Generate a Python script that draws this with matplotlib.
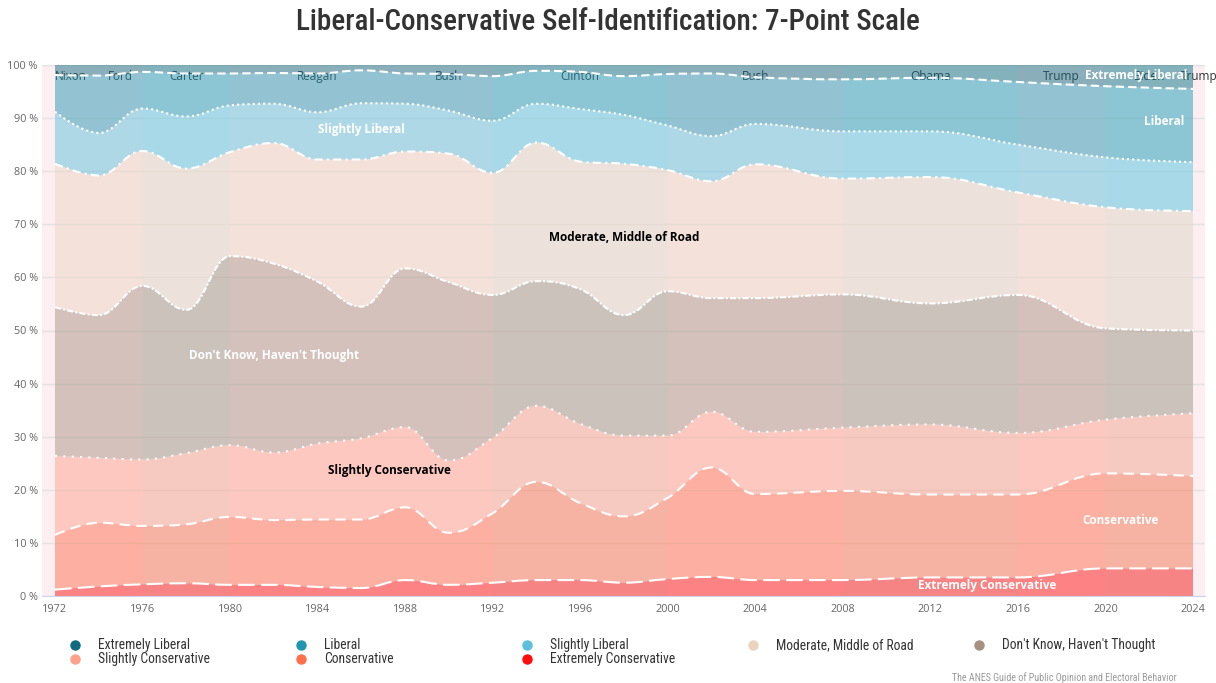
import numpy as np
import matplotlib
matplotlib.use("Agg")
import matplotlib.pyplot as plt
from matplotlib.path import Path
from matplotlib.patches import PathPatch
from matplotlib.lines import Line2D
from matplotlib import font_manager

# ANES survey years and shares (%) per category
years = [1972, 1974, 1976, 1978, 1980, 1982, 1984, 1986, 1988, 1990, 1992,
         1994, 1996, 1998, 2000, 2002, 2004, 2008, 2012, 2016, 2020, 2024]

extremely_conservative = [1.2, 1.8, 2.2, 2.4, 2.1, 2.1, 1.7, 1.5, 3.0, 2.1, 2.5,
                          3.0, 3.0, 2.5, 3.2, 3.6, 3.0, 3.0, 3.5, 3.5, 5.2, 5.2]
conservative = [10.3, 12.0, 11.0, 11.1, 12.8, 12.2, 12.7, 12.9, 13.7, 9.8, 13.1,
                18.5, 14.5, 12.5, 15.3, 20.6, 16.2, 16.8, 15.6, 15.6, 17.9, 17.4]
slightly_conservative = [14.9, 12.2, 12.5, 13.4, 13.5, 12.7, 14.3, 15.3, 15.1, 13.6, 14.2,
                         14.3, 14.9, 15.2, 11.7, 10.5, 11.7, 11.9, 13.2, 11.6, 10.1, 11.8]
dont_know = [28.0, 26.9, 32.7, 27.0, 35.6, 35.6, 30.5, 24.8, 29.9, 33.6, 26.9,
             23.5, 25.4, 22.7, 27.2, 21.4, 25.2, 25.1, 22.8, 26.0, 17.2, 15.6]
moderate = [27.0, 26.3, 25.4, 26.6, 19.6, 22.7, 23.0, 27.7, 22.0, 24.2, 23.0,
            26.1, 24.0, 28.5, 22.8, 22.0, 25.2, 21.8, 23.8, 19.3, 22.8, 22.5]
slightly_liberal = [9.8, 8.0, 8.0, 9.8, 8.8, 7.4, 8.9, 10.6, 9.0, 8.1, 9.8,
                    7.3, 9.9, 9.2, 8.4, 8.5, 7.6, 8.9, 8.6, 9.0, 9.4, 9.2]
liberal = [6.9, 10.8, 6.9, 8.1, 6.0, 5.8, 7.3, 6.2, 5.7, 6.9, 8.4,
           6.2, 7.0, 7.3, 9.7, 11.8, 8.8, 9.8, 10.1, 11.8, 13.4, 13.8]
extremely_liberal = [1.9, 2.0, 1.3, 1.6, 1.6, 1.5, 1.6, 1.0, 1.6, 1.7, 2.1,
                     1.1, 1.3, 2.1, 1.7, 1.6, 2.3, 2.7, 2.4, 3.2, 4.0, 4.5]

# legend order (top of stack first)
names = ["Extremely Liberal", "Liberal", "Slightly Liberal", "Moderate, Middle of Road",
         "Don't Know, Haven't Thought", "Slightly Conservative", "Conservative",
         "Extremely Conservative"]
values = [extremely_liberal, liberal, slightly_liberal, moderate, dont_know,
          slightly_conservative, conservative, extremely_conservative]
colors = ["#0e6b80", "#2196b0", "#5bc0db", "#ebd3c0", "#a89080",
          "#ffa08a", "#ff6e4a", "#ff0d0d"]
line_styles = [None, (0, (4, 2)), (0, (1, 1.5)), (0, (4, 2, 1, 2)), (0, (3, 1, 1, 1)),
               (0, (1, 3)), (0, (5, 3)), (0, (8, 3))]

presidents = ["Nixon", "Ford", "Carter", "Reagan", "Bush", "Clinton", "Bush",
              "Obama", "Trump", "Biden", "Trump"]
terms = [(1968, 1974), (1974, 1976), (1976, 1980), (1980, 1988), (1988, 1992),
         (1992, 2000), (2000, 2008), (2008, 2016), (2016, 2020), (2020, 2024), (2024, 2028)]
parties = ["R", "R", "D", "R", "R", "D", "R", "D", "R", "D", "R"]

avail = {f.name for f in font_manager.fontManager.ttflist}
cond = "Roboto Condensed" if "Roboto Condensed" in avail else "Roboto"
plt.rcParams["font.family"] = ["Open Sans", "DejaVu Sans"]


def spline_segments(x, y, smoothing=1.5):
    # highcharts-like spline control points
    n = len(x)
    denom = smoothing + 1
    left = [None] * n
    right = [None] * n
    for i in range(1, n - 1):
        lx, ly = x[i - 1], y[i - 1]
        nx, ny = x[i + 1], y[i + 1]
        px, py = x[i], y[i]
        lcx = (smoothing * px + lx) / denom
        lcy = (smoothing * py + ly) / denom
        rcx = (smoothing * px + nx) / denom
        rcy = (smoothing * py + ny) / denom
        corr = ((rcy - lcy) * (rcx - px)) / (rcx - lcx) + py - rcy
        lcy += corr
        rcy += corr
        if lcy > ly and lcy > py:
            lcy = max(ly, py)
            rcy = 2 * py - lcy
        elif lcy < ly and lcy < py:
            lcy = min(ly, py)
            rcy = 2 * py - lcy
        if rcy > ny and rcy > py:
            rcy = max(ny, py)
            lcy = 2 * py - rcy
        elif rcy < ny and rcy < py:
            rcy = min(ny, py)
            lcy = 2 * py - rcy
        left[i] = (lcx, lcy)
        right[i] = (rcx, rcy)
    right[0] = (x[0], y[0])
    left[n - 1] = (x[-1], y[-1])
    return left, right


def curve_path(x, y):
    left, right = spline_segments(x, y)
    verts = [(x[0], y[0])]
    codes = [Path.MOVETO]
    for i in range(len(x) - 1):
        verts += [right[i], left[i + 1], (x[i + 1], y[i + 1])]
        codes += [Path.CURVE4] * 3
    return verts, codes


def band_path(x, lo, hi):
    verts, codes = curve_path(x, hi)
    left, right = spline_segments(x, lo)
    verts.append((x[-1], lo[-1]))
    codes.append(Path.LINETO)
    for i in range(len(x) - 2, -1, -1):
        verts += [left[i + 1], right[i], (x[i], lo[i])]
        codes += [Path.CURVE4] * 3
    verts.append((x[0], hi[0]))
    codes.append(Path.CLOSEPOLY)
    return Path(verts, codes)


x = np.array(years, dtype=float)
stack = np.array(values[::-1], dtype=float)      # bottom -> top
tops = np.cumsum(stack, axis=0)
bottoms = np.vstack([np.zeros(len(x)), tops[:-1]])

fig = plt.figure(figsize=(12.16, 6.83), dpi=100)
ax = fig.add_axes([42 / 1216, 1 - 596 / 683, 1163 / 1216, 531 / 683])
ax.set_xlim(1971.406, 2024.548)
ax.set_ylim(0, 100)

# presidential bands
for (s, e), p, name in zip(terms, parties, presidents):
    ax.axvspan(s, e, color="#fdeef2" if p == "R" else "#eef1f4", lw=0, zorder=0)
    lo, hi = max(s, 1971.406), min(e, 2024.548)
    ax.text((lo + hi) / 2, 97.8, name, ha="center", va="center", fontsize=8.5,
            color="#333333", zorder=1)

ax.set_yticks(range(0, 101, 10))
ax.set_yticklabels([f"{v} %" for v in range(0, 101, 10)])
ax.set_xticks(range(1972, 2025, 4))
ax.grid(axis="y", color="#e3e3e3", lw=1)
ax.set_axisbelow(True)
for side in ["top", "left", "right"]:
    ax.spines[side].set_visible(False)
ax.spines["bottom"].set_color("#ccd6eb")
ax.tick_params(length=0, labelsize=7.8, labelcolor="#666666")
ax.tick_params(axis="y", pad=3)
ax.tick_params(axis="x", pad=6)

# stacked areas, bottom to top
for k in range(len(stack)):
    idx = len(stack) - 1 - k
    ax.add_patch(PathPatch(band_path(x, bottoms[k], tops[k]), facecolor=colors[idx],
                           alpha=0.48, lw=0, zorder=2))
for k in range(len(stack)):
    idx = len(stack) - 1 - k
    if line_styles[idx] is None:
        continue
    verts, codes = curve_path(x, tops[k])
    ax.add_patch(PathPatch(Path(verts, codes), fill=False, edgecolor="white", lw=1.5,
                           linestyle=line_styles[idx], zorder=3, capstyle="butt"))

# in-chart series labels
area_labels = [("Extremely Liberal", 2021.4, 98.1, "white"),
               ("Liberal", 2022.7, 89.3, "white"),
               ("Slightly Liberal", 1986.0, 87.8, "white"),
               ("Moderate, Middle of Road", 1998.0, 67.6, "black"),
               ("Don't Know, Haven't Thought", 1982.0, 45.2, "white"),
               ("Slightly Conservative", 1987.3, 23.7, "black"),
               ("Conservative", 2020.7, 14.3, "white"),
               ("Extremely Conservative", 2014.6, 1.9, "white")]
for text, lx, ly, c in area_labels:
    ax.text(lx, ly, text, ha="center", va="center", fontsize=8.5, fontweight="bold",
            color=c, zorder=4)

fig.text(608 / 1216, 1 - 22 / 683, "Liberal-Conservative Self-Identification: 7-Point Scale",
         ha="center", va="center", fontsize=21 if cond == "Roboto Condensed" else 18,
         color="#333333", family=cond, fontweight="medium")

# legend
for i, (name, c) in enumerate(zip(names, colors)):
    col, row = i % 5, i // 5
    lx = (75 + 226 * col) / 1216
    ly = 1 - (645 + 14 * row) / 683
    fig.add_artist(Line2D([lx], [ly], marker="o", ms=6.5, color=c, lw=0,
                          transform=fig.transFigure))
    fig.text(lx + 23 / 1216, ly, name, va="center", fontsize=9.8, color="#333333", family=cond)

fig.text(1177 / 1216, 1 - 678 / 683,
         "The ANES Guide of Public Opinion and Electoral Behavior",
         ha="right", va="center", fontsize=7.2, color="#999999", family=cond)

fig.savefig("out.png", dpi=100)
